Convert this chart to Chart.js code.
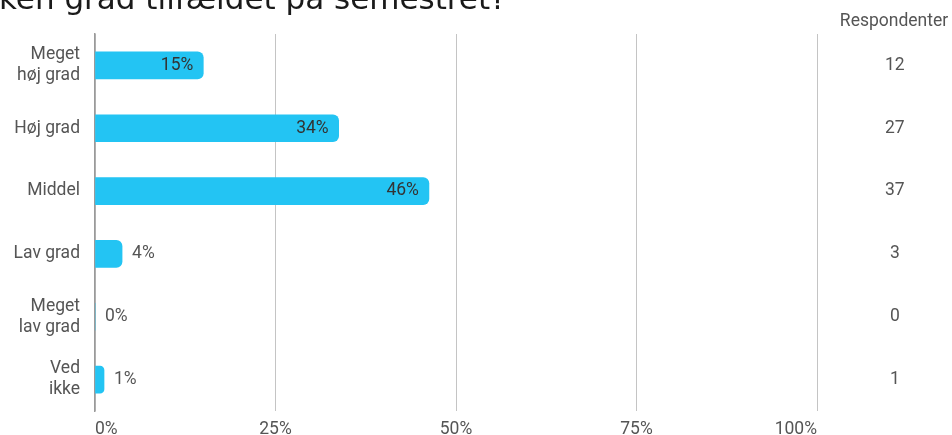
<!DOCTYPE html>
<html>
<head>
<meta charset="utf-8">
<script src="https://cdn.jsdelivr.net/npm/chart.js@4"></script>
<style>
  html, body { margin: 0; padding: 0; background: #fff; }
  #wrap { width: 952px; height: 435px; }
</style>
</head>
<body>
<div id="wrap"><canvas id="grafico"></canvas></div>
<script>
const titel = "ken grad tilfældet på semestret?";
const kategorier = [["Meget", "høj grad"], "Høj grad", "Middel", "Lav grad", ["Meget", "lav grad"], ["Ved", "ikke"]];
const procenter = [15, 33.75, 46.25, 3.75, 0, 1.25];
const respondenter = ["12", "27", "37", "3", "0", "1"];
const xTicks = [0, 25, 50, 75, 100];

const blaa = "#23c4f3";
const graa = "#555555";
const skrift = { family: "Roboto", size: 17.5 };

const etiketter = {
    id: "etiketter",
    afterDatasetsDraw(chart) {
        const ctx = chart.ctx;
        const meta = chart.getDatasetMeta(0);
        ctx.save();
        ctx.font = "17.5px Roboto";
        ctx.textBaseline = "middle";
        meta.data.forEach((bar, i) => {
            const v = procenter[i];
            const txt = Math.round(v) + "%";
            if (v >= 10) {
                ctx.fillStyle = "#333333";
                ctx.textAlign = "right";
                ctx.fillText(txt, bar.x - 10, bar.y);
            } else {
                ctx.fillStyle = graa;
                ctx.textAlign = "left";
                ctx.fillText(txt, bar.x + 10, bar.y);
            }
        });
        ctx.restore();
    },
    afterDraw(chart) {
        const ctx = chart.ctx;
        ctx.save();
        ctx.fillStyle = "#1a1a1a";
        ctx.font = '31px "DejaVu Sans"';
        ctx.textAlign = "left";
        ctx.textBaseline = "alphabetic";
        ctx.fillText(titel, -1, 9);

        ctx.fillStyle = graa;
        ctx.font = "17.5px Roboto";
        ctx.textAlign = "center";
        ctx.textBaseline = "middle";
        ctx.fillText("Respondenter", 894, 22);
        ctx.restore();
    }
};

const ingenPadding = (s, w) => {
    s.width = w;
    s.paddingTop = 0;
    s.paddingBottom = 0;
};

const ctx = document.getElementById("grafico").getContext("2d");

const chart = new Chart(ctx, {
    type: "bar",
    data: {
        labels: kategorier,
        datasets: [{
            data: procenter,
            backgroundColor: blaa,
            borderWidth: 0,
            borderSkipped: "start",
            borderRadius: { topRight: 6, bottomRight: 6, topLeft: 0, bottomLeft: 0 },
            barThickness: 27
        }]
    },
    options: {
        indexAxis: "y",
        responsive: true,
        maintainAspectRatio: false,
        animation: false,
        layout: { padding: { top: 34, left: 0, right: 0, bottom: 0 } },
        plugins: {
            legend: { display: false },
            tooltip: { enabled: false }
        },
        scales: {
            x: {
                type: "linear",
                min: 0,
                max: 100,
                afterBuildTicks: s => { s.ticks = xTicks.map(v => ({ value: v })); },
                afterFit: s => { s.height = 24; s.paddingLeft = 0; s.paddingRight = 0; },
                ticks: {
                    callback: v => v + "%",
                    align: "inner",
                    padding: 8,
                    color: graa,
                    font: skrift
                },
                grid: { color: "#c4c4c4", drawTicks: false, lineWidth: 1 },
                border: { display: false }
            },
            y: {
                type: "category",
                offset: true,
                afterFit: s => ingenPadding(s, 95),
                ticks: {
                    color: graa,
                    padding: 15,
                    font: skrift
                },
                grid: { display: false, drawTicks: false },
                border: { display: true, color: "#9a9a9a", width: 1.5 }
            },
            y2: {
                type: "category",
                position: "right",
                offset: true,
                labels: respondenter,
                afterFit: s => ingenPadding(s, 135),
                ticks: {
                    color: graa,
                    padding: 68,
                    crossAlign: "center",
                    font: skrift
                },
                grid: { display: false, drawTicks: false },
                border: { display: false }
            }
        }
    },
    plugins: [etiketter]
});
</script>
</body>
</html>
